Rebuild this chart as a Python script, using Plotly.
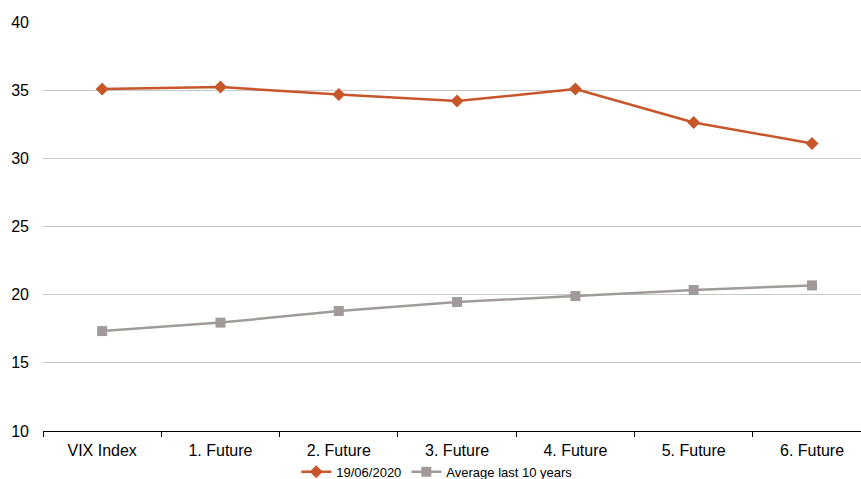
import plotly.graph_objects as go

categories = ["VIX Index", "1. Future", "2. Future", "3. Future", "4. Future", "5. Future", "6. Future"]
current_curve = [35.08, 35.23, 34.68, 34.2, 35.08, 32.63, 31.09]
average_10y = [17.33, 17.95, 18.8, 19.46, 19.9, 20.34, 20.68]
y_ticks = [10, 15, 20, 25, 30, 35, 40]

fig = go.Figure()
fig.add_trace(go.Scatter(
    x=categories, y=current_curve, name="19/06/2020", mode="lines+markers",
    line=dict(color="#C8562B", width=2.5),
    marker=dict(symbol="diamond", size=10, color="#C8562B"),
))
fig.add_trace(go.Scatter(
    x=categories, y=average_10y, name="Average last 10 years", mode="lines+markers",
    line=dict(color="#A09B98", width=2.5),
    marker=dict(symbol="square", size=10, color="#A09B98"),
))

fig.update_layout(
    width=861, height=479,
    margin=dict(l=43, r=0, t=22, b=48, autoexpand=False),
    paper_bgcolor="white", plot_bgcolor="white",
    font=dict(family="Liberation Sans, Arial, sans-serif", size=16, color="#000000"),
    showlegend=True,
    legend=dict(orientation="h", x=0.482, xanchor="center", y=-0.1, yanchor="middle",
                font=dict(size=13), tracegroupgap=0, bgcolor="rgba(0,0,0,0)"),
    xaxis=dict(
        type="category", range=[-0.5, 6.414],
        showline=True, linecolor="#000000", linewidth=1,
        ticks="outside", tickson="boundaries", ticklen=5, tickcolor="#000000",
        ticklabelstandoff=5,
        showgrid=False, zeroline=False,
    ),
    yaxis=dict(
        range=[10, 40], tickvals=y_ticks,
        showgrid=True, gridcolor="#C8C8C8", gridwidth=1,
        showline=False, zeroline=False, ticks="", ticklen=0,
        ticklabelstandoff=13,
    ),
)

fig.write_html("out.html")
